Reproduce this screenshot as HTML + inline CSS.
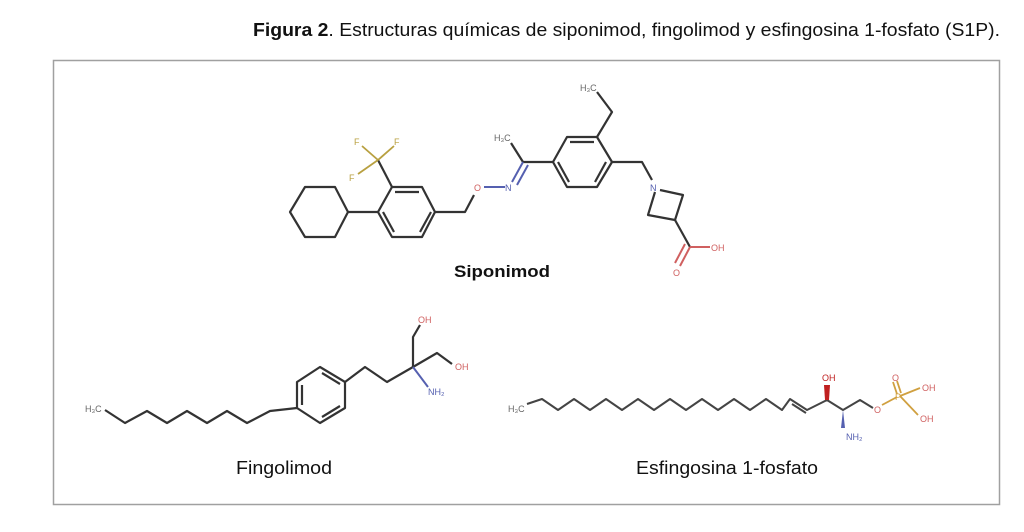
<!DOCTYPE html>
<html><head><meta charset="utf-8"><style>
body{margin:0;background:#fff;width:1024px;height:532px;overflow:hidden;font-family:"Liberation Sans",sans-serif}
</style></head><body>
<svg width="1024" height="532" xmlns="http://www.w3.org/2000/svg" style="position:absolute;left:0;top:0">
<text x="253" y="36" font-size="18" fill="#111" textLength="747" lengthAdjust="spacingAndGlyphs"><tspan font-weight="bold">Figura 2</tspan>. Estructuras químicas de siponimod, fingolimod y esfingosina 1-fosfato (S1P).</text>
<rect x="53.5" y="60.5" width="946" height="444" fill="none" stroke="#a0a0a0" stroke-width="1.5"/>
<g fill="none" stroke="#333" stroke-width="2.2" stroke-linejoin="round">
<polygon points="290,212 305,187 335,187 348,212 335,237 305,237"/>
<line x1="348" y1="212" x2="378" y2="212"/>
<polygon points="378,212 392,187 422,187 435,212 422,237 392,237"/>
<line x1="395" y1="192" x2="419" y2="192"/><line x1="383" y1="212" x2="394" y2="232"/><line x1="420" y1="232" x2="431" y2="212"/>
<line x1="392" y1="187" x2="378" y2="160"/>
<polyline points="435,212 465,212 474,195"/>
<polyline points="553,162 523,162"/>
<line x1="523" y1="162" x2="511" y2="143"/>
<polygon points="553,162 567,137 597,137 612,162 597,187 567,187"/>
<line x1="570" y1="142" x2="594" y2="142"/><line x1="558" y1="162" x2="569" y2="182"/><line x1="595" y1="182" x2="606" y2="162"/>
<polyline points="597,137 612,112 597,92"/>
<polyline points="612,162 642,162 652,180"/>
<polyline points="660,190 683,195 675,220 648,215 655,192"/>
<line x1="675" y1="220" x2="690" y2="247"/>
</g>
<g stroke="#b8a040" stroke-width="1.8"><line x1="378" y1="160" x2="362" y2="146"/><line x1="378" y1="160" x2="394" y2="146"/><line x1="378" y1="160" x2="358" y2="174"/></g>
<g stroke="#5560b0" stroke-width="2"><line x1="484" y1="187" x2="505" y2="187"/><line x1="512" y1="182" x2="523" y2="162"/><line x1="517" y1="185" x2="528" y2="165"/></g>
<g stroke="#d06060" stroke-width="2"><line x1="690" y1="247" x2="710" y2="247"/><line x1="690" y1="247" x2="680" y2="266"/><line x1="685" y1="244" x2="675" y2="263"/></g>
<g font-size="9" fill="#666">
<text x="354" y="145" fill="#b8a040">F</text><text x="394" y="145" fill="#b8a040">F</text><text x="349" y="181" fill="#b8a040">F</text>
<text x="474" y="191" fill="#d06060">O</text><text x="505" y="191" fill="#5560b0">N</text>
<text x="494" y="141">H₃C</text><text x="580" y="91">H₃C</text>
<text x="650" y="191" fill="#5560b0">N</text>
<text x="711" y="251" fill="#d06060">OH</text><text x="673" y="276" fill="#d06060">O</text>
</g>
<text x="454" y="277" font-size="17" font-weight="bold" fill="#111" textLength="96" lengthAdjust="spacingAndGlyphs">Siponimod</text>
<g fill="none" stroke="#333" stroke-width="2.2" stroke-linejoin="round">
<polyline points="105,410 125,423 147,411 167,423 187,411 207,423 227,411 247,423 270,411 297,408"/>
<polygon points="297,382 320,367 345,382 345,408 320,423 297,408"/>
<line x1="302" y1="385" x2="302" y2="405"/><line x1="322" y1="373" x2="340" y2="384"/><line x1="340" y1="406" x2="322" y2="417"/>
<polyline points="345,382 365,367 387,382 413,367"/>
<polyline points="413,367 413,337 420,325"/>
<polyline points="413,367 437,353 452,364"/>
</g>
<line x1="413" y1="367" x2="428" y2="387" stroke="#5560b0" stroke-width="2"/>
<g font-size="9">
<text x="85" y="412" fill="#666">H₃C</text>
<text x="418" y="323" fill="#d06060">OH</text><text x="455" y="370" fill="#d06060">OH</text>
<text x="428" y="395" fill="#5560b0">NH₂</text>
</g>
<text x="236" y="474" font-size="18" fill="#111" textLength="96" lengthAdjust="spacingAndGlyphs">Fingolimod</text>
<g fill="none" stroke="#444" stroke-width="2" stroke-linejoin="round">
<polyline points="527,404 542,399 558,410 574,399 590,410 606,399 622,410 638,399 654,410 670,399 686,410 702,399 718,410 734,399 750,410 766,399 782,410 790,399 807,410 827,400 843,410 860,400 873,408"/>
<line x1="792" y1="404" x2="806" y2="413"/>
</g>
<polygon points="825,400 829,400 830,385 824,385" fill="#c02020"/>
<polygon points="843,410 845,428 841,428" fill="#5560b0"/>
<g stroke="#d0a040" stroke-width="1.8"><line x1="882" y1="405" x2="897" y2="397"/><line x1="900" y1="396" x2="920" y2="388"/><line x1="900" y1="396" x2="918" y2="415"/><line x1="897" y1="394" x2="893" y2="382"/><line x1="901" y1="393" x2="897" y2="381"/></g>
<g font-size="9">
<text x="508" y="412" fill="#666">H₃C</text>
<text x="822" y="381" fill="#c02020">OH</text>
<text x="846" y="440" fill="#5560b0">NH₂</text>
<text x="874" y="413" fill="#d06060">O</text>
<text x="895" y="400" fill="#d0a040">P</text>
<text x="892" y="381" fill="#d06060">O</text>
<text x="922" y="391" fill="#d06060">OH</text>
<text x="920" y="422" fill="#d06060">OH</text>
</g>
<text x="636" y="474" font-size="18" fill="#111" textLength="182" lengthAdjust="spacingAndGlyphs">Esfingosina 1-fosfato</text>
</svg>
</body></html>
